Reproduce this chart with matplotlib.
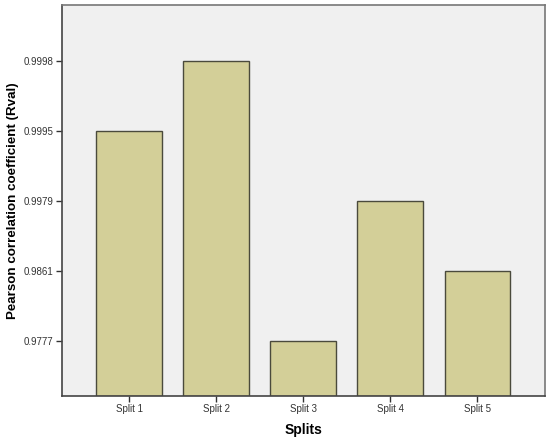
import matplotlib
matplotlib.use("Agg")
import matplotlib.pyplot as plt

categories = ["Split 1", "Split 2", "Split 3", "Split 4", "Split 5"]
values = [0.9995, 0.9998, 0.9777, 0.9979, 0.9861]
tick_labels = ["0.9777", "0.9861", "0.9979", "0.9995", "0.9998"]

# Ordinal y axis: each distinct value sits on its own evenly spaced level
levels = sorted(set(values))
ranks = [levels.index(v) + 1 for v in values]

fig = plt.figure(figsize=(5.5, 4.4), dpi=100)
ax = fig.add_axes([0.1127, 0.1, 0.8783, 0.8886])
ax.set_facecolor("#F0F0F0")
fig.patch.set_facecolor("white")

base = 0.214
x = list(range(len(categories)))
ax.bar(x, [r - base for r in ranks], bottom=base, width=0.75,
       color="#D3CF98", edgecolor="#4A4A3C", linewidth=1.0, zorder=2)

ax.set_xlim(-0.77, 4.78)
ax.set_ylim(base, 5.8)
ax.set_xticks(x)
ax.set_xticklabels(categories, fontsize=7, family="Liberation Sans")
ax.set_yticks(range(1, len(levels) + 1))
ax.set_yticklabels(tick_labels, fontsize=7, family="Liberation Sans", color="#333333")
for lab in ax.get_xticklabels():
    lab.set_color("#333333")
ax.tick_params(axis="both", length=4, width=1, color="#333333", pad=2)

for s in ax.spines.values():
    s.set_color("#777777")
    s.set_linewidth(1.2)
ax.spines["left"].set_color("#444444")
ax.spines["bottom"].set_color("#444444")

ax.set_xlabel("Splits", fontsize=10, fontweight="bold", family="Liberation Sans", labelpad=6)
ax.set_ylabel("Pearson correlation coefficient (Rval)", fontsize=9.6, fontweight="bold",
              family="Liberation Sans")
ax.yaxis.set_label_coords(-0.089, 0.5)

fig.savefig("out.png", dpi=100)
